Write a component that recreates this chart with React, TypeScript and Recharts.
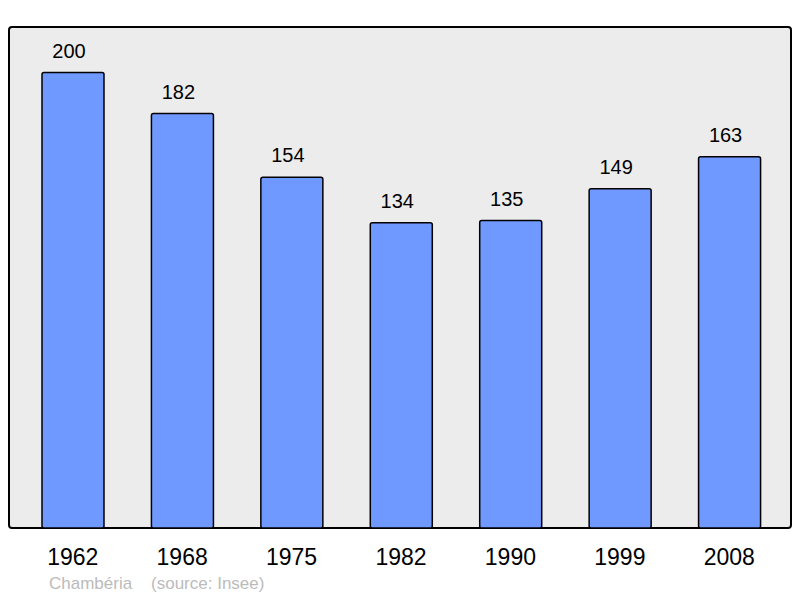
import { BarChart, Bar, XAxis, YAxis, LabelList } from "recharts";

const years = ["1962", "1968", "1975", "1982", "1990", "1999", "2008"];
const population = [200, 182, 154, 134, 135, 149, 163];

const data = years.map((year, i) => ({ year, population: population[i] }));

const FONT = "'Liberation Sans', Arial, sans-serif";

export default function App() {
  return (
    <div style={{ position: "absolute", left: 0, top: 0, width: 800, height: 598, background: "#fff", fontFamily: FONT }}>
      <div
        style={{
          position: "absolute",
          left: 8,
          top: 26,
          width: 780,
          height: 499,
          background: "#ececec",
          border: "2px solid #000",
          borderRadius: 4,
        }}
      />
      <div style={{ position: "absolute", left: 0, top: 0 }}>
        <BarChart width={800} height={598} data={data} margin={{ top: 27, right: 9, left: 9, bottom: 40 }}>
          <YAxis hide domain={[0, 220]} />
          <XAxis
            dataKey="year"
            height={30}
            axisLine={false}
            tickLine={false}
            padding={{ left: 9, right: 7 }}
            tick={{ fill: "#000", fontSize: 23, fontFamily: FONT }}
            dy={13}
          />
          <Bar dataKey="population" fill="#7099ff" stroke="#000" strokeWidth={1.5} barSize={62} radius={2} isAnimationActive={false}>
            <LabelList dataKey="population" position="top" offset={15} dx={-4} fill="#000" fontSize={20} fontFamily={FONT} />
          </Bar>
        </BarChart>
      </div>
      <div style={{ position: "absolute", left: 49, top: 574, fontSize: 17, color: "#bbbbbb", whiteSpace: "pre" }}>
        {"Chambéria    (source: Insee)"}
      </div>
    </div>
  );
}
